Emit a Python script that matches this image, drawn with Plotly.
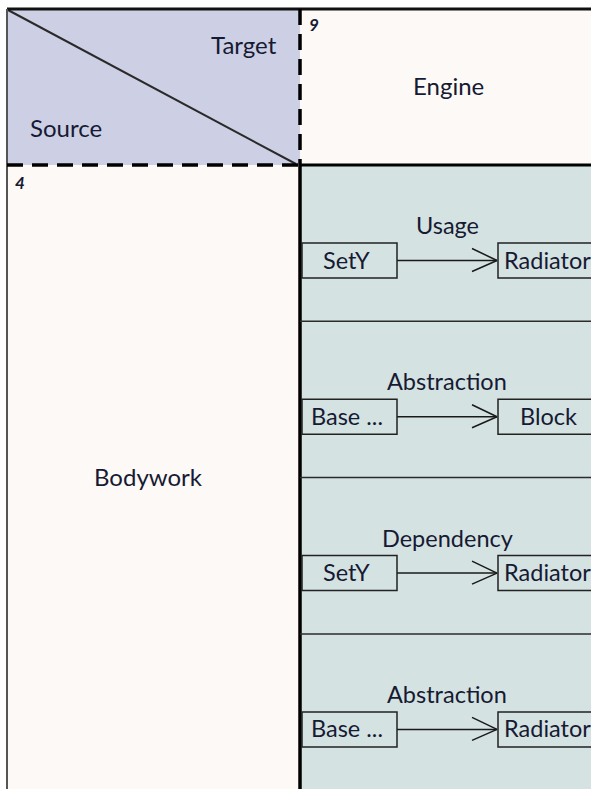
import plotly.graph_objects as go

# ---- data ----
corner_labels = ["Target", "Source"]
column_header = "Engine"
column_id = "9"
row_header = "Bodywork"
row_id = "4"
relation_types = ["Usage", "Abstraction", "Dependency", "Abstraction"]
source_elements = ["SetY", "Base ...", "SetY", "Base ..."]
target_elements = ["Radiator", "Block", "Radiator", "Radiator"]

W, H = 591, 789
FONT = "Lato"
TXT = "#161a33"
LAV = "#cdd0e4"
CREAM = "#fdf9f6"
TEAL = "#d5e2e2"

# layout geometry
left, top = 7, 9
split_x, split_y = 300, 165
row_h = 156.3
src_x0, src_x1 = 302, 397
tgt_x0, tgt_x1 = 498, 610
box_h = 35
box_offset = 78  # from row top to box top

fig = go.Figure()
shapes = []
ann = []

# backgrounds
shapes.append(dict(type="rect", x0=left, x1=split_x, y0=top, y1=split_y, fillcolor=LAV, line=dict(width=0), layer="below"))
shapes.append(dict(type="rect", x0=split_x, x1=W + 10, y0=top, y1=split_y, fillcolor=CREAM, line=dict(width=0), layer="below"))
shapes.append(dict(type="rect", x0=left, x1=split_x, y0=split_y, y1=H + 10, fillcolor=CREAM, line=dict(width=0), layer="below"))
shapes.append(dict(type="rect", x0=split_x, x1=W + 10, y0=split_y, y1=H + 10, fillcolor=TEAL, line=dict(width=0), layer="below"))

# diagonal
shapes.append(dict(type="line", x0=left + 1, y0=top + 1, x1=split_x - 4, y1=split_y - 1, line=dict(color="#2a2a2a", width=2)))

# borders
shapes.append(dict(type="line", x0=left, y0=top, x1=W + 10, y1=top, line=dict(color="#111111", width=3)))
shapes.append(dict(type="line", x0=left, y0=top, x1=left, y1=H + 10, line=dict(color="#555555", width=2)))
shapes.append(dict(type="line", x0=split_x, y0=top, x1=split_x, y1=split_y, line=dict(color="#000000", width=3.5, dash="16px,9px")))
shapes.append(dict(type="line", x0=left, y0=split_y, x1=split_x, y1=split_y, line=dict(color="#000000", width=3.5, dash="16px,9px")))
shapes.append(dict(type="line", x0=split_x, y0=split_y, x1=split_x, y1=H + 10, line=dict(color="#000000", width=3.5)))
shapes.append(dict(type="line", x0=split_x, y0=split_y, x1=W + 10, y1=split_y, line=dict(color="#000000", width=3)))

HS = 24
IS = 23.5
# corner texts
ann.append(dict(x=279, y=44, text=corner_labels[0], xanchor="right", yanchor="middle", showarrow=False, font=dict(family=FONT, size=HS, color=TXT)))
ann.append(dict(x=28, y=127, text=corner_labels[1], xanchor="left", yanchor="middle", showarrow=False, font=dict(family=FONT, size=HS, color=TXT)))
# headers
ann.append(dict(x=448, y=85, text=column_header, showarrow=False, font=dict(family=FONT, size=HS, color=TXT)))
ann.append(dict(x=307, y=24, text="<i><b>" + column_id + "</b></i>", xanchor="left", showarrow=False, font=dict(family=FONT, size=17, color=TXT)))
ann.append(dict(x=148, y=476, text=row_header, showarrow=False, font=dict(family=FONT, size=HS, color=TXT)))
ann.append(dict(x=13, y=182, text="<i><b>" + row_id + "</b></i>", xanchor="left", showarrow=False, font=dict(family=FONT, size=17, color=TXT)))

arrow_x, arrow_y = [], []
for i, (rel, s, t) in enumerate(zip(relation_types, source_elements, target_elements)):
    r0 = split_y + i * row_h
    if i > 0:
        shapes.append(dict(type="line", x0=split_x, y0=r0, x1=W + 10, y1=r0, line=dict(color="#2b2b2b", width=1.5)))
    b0 = r0 + box_offset
    b1 = b0 + box_h
    cy = (b0 + b1) / 2
    shapes.append(dict(type="rect", x0=src_x0, x1=src_x1, y0=b0, y1=b1, fillcolor=TEAL, line=dict(color="#222222", width=1.5)))
    shapes.append(dict(type="rect", x0=tgt_x0, x1=tgt_x1, y0=b0, y1=b1, fillcolor=TEAL, line=dict(color="#222222", width=1.5)))
    ann.append(dict(x=(src_x0 + src_x1) / 2 - 3, y=cy - 1, text=s, showarrow=False, font=dict(family=FONT, size=IS, color=TXT)))
    if len(t) > 6:
        ann.append(dict(x=tgt_x0 + 4, y=cy - 1, text=t, xanchor="left", showarrow=False, font=dict(family=FONT, size=IS, color=TXT)))
    else:
        ann.append(dict(x=548, y=cy - 1, text=t, showarrow=False, font=dict(family=FONT, size=IS, color=TXT)))
    ann.append(dict(x=447, y=b0 - 18, text=rel, showarrow=False, font=dict(family=FONT, size=IS, color=TXT)))
    # connector
    arrow_x += [src_x1, tgt_x0 - 1, None, tgt_x0 - 26, tgt_x0 - 1, tgt_x0 - 26, None]
    arrow_y += [cy, cy, None, cy - 12, cy, cy + 11, None]

fig.add_trace(go.Scatter(x=arrow_x, y=arrow_y, mode="lines", line=dict(color="#1a1a1a", width=1.5), hoverinfo="skip", showlegend=False))

fig.update_layout(
    width=W, height=H,
    margin=dict(l=0, r=0, t=0, b=0),
    paper_bgcolor="white", plot_bgcolor="white",
    shapes=shapes, annotations=ann,
    xaxis=dict(range=[0, W], visible=False, fixedrange=True),
    yaxis=dict(range=[H, 0], visible=False, fixedrange=True),
    showlegend=False,
)
fig.write_html("out.html", config={"displayModeBar": False},
               post_script="document.body.style.margin='0';document.body.style.overflow='hidden';")
